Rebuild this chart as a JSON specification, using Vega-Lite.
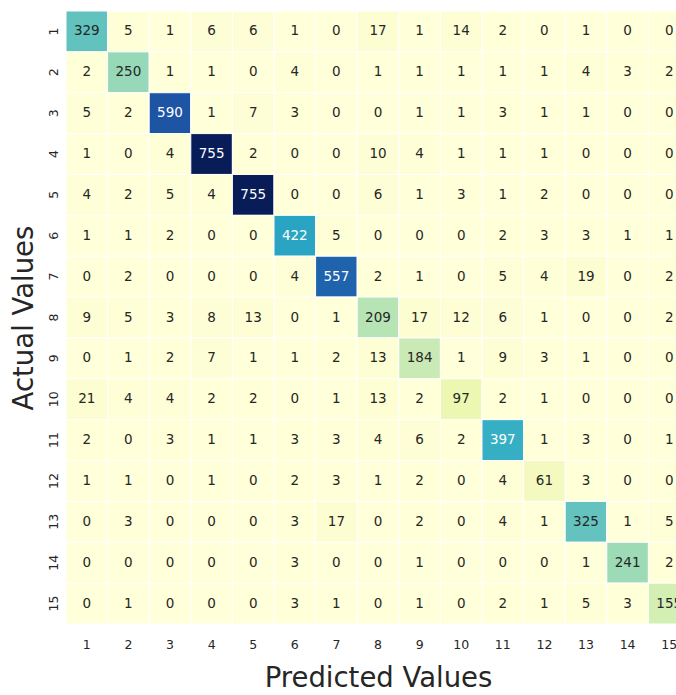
{
  "$schema": "https://vega.github.io/schema/vega-lite/v6.json",
  "autosize": "none",
  "padding": {"left": 66, "top": 11, "right": 0, "bottom": 71},
  "width": 624,
  "height": 613,
  "background": "white",
  "config": {"view": {"stroke": null}, "font": "DejaVu Sans"},
  "data": {"values": [
    {"a":1,"p":1,"v":329},{"a":1,"p":2,"v":5},{"a":1,"p":3,"v":1},{"a":1,"p":4,"v":6},{"a":1,"p":5,"v":6},{"a":1,"p":6,"v":1},{"a":1,"p":7,"v":0},{"a":1,"p":8,"v":17},{"a":1,"p":9,"v":1},{"a":1,"p":10,"v":14},{"a":1,"p":11,"v":2},{"a":1,"p":12,"v":0},{"a":1,"p":13,"v":1},{"a":1,"p":14,"v":0},{"a":1,"p":15,"v":0},
    {"a":2,"p":1,"v":2},{"a":2,"p":2,"v":250},{"a":2,"p":3,"v":1},{"a":2,"p":4,"v":1},{"a":2,"p":5,"v":0},{"a":2,"p":6,"v":4},{"a":2,"p":7,"v":0},{"a":2,"p":8,"v":1},{"a":2,"p":9,"v":1},{"a":2,"p":10,"v":1},{"a":2,"p":11,"v":1},{"a":2,"p":12,"v":1},{"a":2,"p":13,"v":4},{"a":2,"p":14,"v":3},{"a":2,"p":15,"v":2},
    {"a":3,"p":1,"v":5},{"a":3,"p":2,"v":2},{"a":3,"p":3,"v":590},{"a":3,"p":4,"v":1},{"a":3,"p":5,"v":7},{"a":3,"p":6,"v":3},{"a":3,"p":7,"v":0},{"a":3,"p":8,"v":0},{"a":3,"p":9,"v":1},{"a":3,"p":10,"v":1},{"a":3,"p":11,"v":3},{"a":3,"p":12,"v":1},{"a":3,"p":13,"v":1},{"a":3,"p":14,"v":0},{"a":3,"p":15,"v":0},
    {"a":4,"p":1,"v":1},{"a":4,"p":2,"v":0},{"a":4,"p":3,"v":4},{"a":4,"p":4,"v":755},{"a":4,"p":5,"v":2},{"a":4,"p":6,"v":0},{"a":4,"p":7,"v":0},{"a":4,"p":8,"v":10},{"a":4,"p":9,"v":4},{"a":4,"p":10,"v":1},{"a":4,"p":11,"v":1},{"a":4,"p":12,"v":1},{"a":4,"p":13,"v":0},{"a":4,"p":14,"v":0},{"a":4,"p":15,"v":0},
    {"a":5,"p":1,"v":4},{"a":5,"p":2,"v":2},{"a":5,"p":3,"v":5},{"a":5,"p":4,"v":4},{"a":5,"p":5,"v":755},{"a":5,"p":6,"v":0},{"a":5,"p":7,"v":0},{"a":5,"p":8,"v":6},{"a":5,"p":9,"v":1},{"a":5,"p":10,"v":3},{"a":5,"p":11,"v":1},{"a":5,"p":12,"v":2},{"a":5,"p":13,"v":0},{"a":5,"p":14,"v":0},{"a":5,"p":15,"v":0},
    {"a":6,"p":1,"v":1},{"a":6,"p":2,"v":1},{"a":6,"p":3,"v":2},{"a":6,"p":4,"v":0},{"a":6,"p":5,"v":0},{"a":6,"p":6,"v":422},{"a":6,"p":7,"v":5},{"a":6,"p":8,"v":0},{"a":6,"p":9,"v":0},{"a":6,"p":10,"v":0},{"a":6,"p":11,"v":2},{"a":6,"p":12,"v":3},{"a":6,"p":13,"v":3},{"a":6,"p":14,"v":1},{"a":6,"p":15,"v":1},
    {"a":7,"p":1,"v":0},{"a":7,"p":2,"v":2},{"a":7,"p":3,"v":0},{"a":7,"p":4,"v":0},{"a":7,"p":5,"v":0},{"a":7,"p":6,"v":4},{"a":7,"p":7,"v":557},{"a":7,"p":8,"v":2},{"a":7,"p":9,"v":1},{"a":7,"p":10,"v":0},{"a":7,"p":11,"v":5},{"a":7,"p":12,"v":4},{"a":7,"p":13,"v":19},{"a":7,"p":14,"v":0},{"a":7,"p":15,"v":2},
    {"a":8,"p":1,"v":9},{"a":8,"p":2,"v":5},{"a":8,"p":3,"v":3},{"a":8,"p":4,"v":8},{"a":8,"p":5,"v":13},{"a":8,"p":6,"v":0},{"a":8,"p":7,"v":1},{"a":8,"p":8,"v":209},{"a":8,"p":9,"v":17},{"a":8,"p":10,"v":12},{"a":8,"p":11,"v":6},{"a":8,"p":12,"v":1},{"a":8,"p":13,"v":0},{"a":8,"p":14,"v":0},{"a":8,"p":15,"v":2},
    {"a":9,"p":1,"v":0},{"a":9,"p":2,"v":1},{"a":9,"p":3,"v":2},{"a":9,"p":4,"v":7},{"a":9,"p":5,"v":1},{"a":9,"p":6,"v":1},{"a":9,"p":7,"v":2},{"a":9,"p":8,"v":13},{"a":9,"p":9,"v":184},{"a":9,"p":10,"v":1},{"a":9,"p":11,"v":9},{"a":9,"p":12,"v":3},{"a":9,"p":13,"v":1},{"a":9,"p":14,"v":0},{"a":9,"p":15,"v":0},
    {"a":10,"p":1,"v":21},{"a":10,"p":2,"v":4},{"a":10,"p":3,"v":4},{"a":10,"p":4,"v":2},{"a":10,"p":5,"v":2},{"a":10,"p":6,"v":0},{"a":10,"p":7,"v":1},{"a":10,"p":8,"v":13},{"a":10,"p":9,"v":2},{"a":10,"p":10,"v":97},{"a":10,"p":11,"v":2},{"a":10,"p":12,"v":1},{"a":10,"p":13,"v":0},{"a":10,"p":14,"v":0},{"a":10,"p":15,"v":0},
    {"a":11,"p":1,"v":2},{"a":11,"p":2,"v":0},{"a":11,"p":3,"v":3},{"a":11,"p":4,"v":1},{"a":11,"p":5,"v":1},{"a":11,"p":6,"v":3},{"a":11,"p":7,"v":3},{"a":11,"p":8,"v":4},{"a":11,"p":9,"v":6},{"a":11,"p":10,"v":2},{"a":11,"p":11,"v":397},{"a":11,"p":12,"v":1},{"a":11,"p":13,"v":3},{"a":11,"p":14,"v":0},{"a":11,"p":15,"v":1},
    {"a":12,"p":1,"v":1},{"a":12,"p":2,"v":1},{"a":12,"p":3,"v":0},{"a":12,"p":4,"v":1},{"a":12,"p":5,"v":0},{"a":12,"p":6,"v":2},{"a":12,"p":7,"v":3},{"a":12,"p":8,"v":1},{"a":12,"p":9,"v":2},{"a":12,"p":10,"v":0},{"a":12,"p":11,"v":4},{"a":12,"p":12,"v":61},{"a":12,"p":13,"v":3},{"a":12,"p":14,"v":0},{"a":12,"p":15,"v":0},
    {"a":13,"p":1,"v":0},{"a":13,"p":2,"v":3},{"a":13,"p":3,"v":0},{"a":13,"p":4,"v":0},{"a":13,"p":5,"v":0},{"a":13,"p":6,"v":3},{"a":13,"p":7,"v":17},{"a":13,"p":8,"v":0},{"a":13,"p":9,"v":2},{"a":13,"p":10,"v":0},{"a":13,"p":11,"v":4},{"a":13,"p":12,"v":1},{"a":13,"p":13,"v":325},{"a":13,"p":14,"v":1},{"a":13,"p":15,"v":5},
    {"a":14,"p":1,"v":0},{"a":14,"p":2,"v":0},{"a":14,"p":3,"v":0},{"a":14,"p":4,"v":0},{"a":14,"p":5,"v":0},{"a":14,"p":6,"v":3},{"a":14,"p":7,"v":0},{"a":14,"p":8,"v":0},{"a":14,"p":9,"v":1},{"a":14,"p":10,"v":0},{"a":14,"p":11,"v":0},{"a":14,"p":12,"v":0},{"a":14,"p":13,"v":1},{"a":14,"p":14,"v":241},{"a":14,"p":15,"v":2},
    {"a":15,"p":1,"v":0},{"a":15,"p":2,"v":1},{"a":15,"p":3,"v":0},{"a":15,"p":4,"v":0},{"a":15,"p":5,"v":0},{"a":15,"p":6,"v":3},{"a":15,"p":7,"v":1},{"a":15,"p":8,"v":0},{"a":15,"p":9,"v":1},{"a":15,"p":10,"v":0},{"a":15,"p":11,"v":2},{"a":15,"p":12,"v":1},{"a":15,"p":13,"v":5},{"a":15,"p":14,"v":3},{"a":15,"p":15,"v":155}
  ]},
  "encoding": {
    "x": {"field": "p", "type": "ordinal", "title": "Predicted Values",
      "axis": {"labelAngle": 0, "ticks": false, "domain": false, "labelPadding": 14, "labelFontSize": 12.5, "labelColor": "#262626", "titleFontSize": 27.5, "titleFontWeight": "normal", "titleColor": "#262626", "titlePadding": 14, "labelFont": "DejaVu Sans", "titleFont": "DejaVu Sans"}},
    "y": {"field": "a", "type": "ordinal", "title": "Actual Values",
      "axis": {"labelAngle": 270, "labelAlign": "center", "labelBaseline": "bottom", "ticks": false, "domain": false, "labelPadding": 6, "labelFontSize": 12.5, "labelColor": "#262626", "titleFontSize": 27.5, "titleFontWeight": "normal", "titleColor": "#262626", "titlePadding": 9, "labelFont": "DejaVu Sans", "titleFont": "DejaVu Sans"}}
  },
  "layer": [
    {
      "mark": {"type": "rect", "stroke": "white", "strokeWidth": 1},
      "encoding": {
        "color": {"field": "v", "type": "quantitative", "legend": null,
          "scale": {"domain": [0, 94.375, 188.75, 283.125, 377.5, 471.875, 566.25, 660.625, 755],
            "range": ["#ffffd9", "#edf8b1", "#c7e9b4", "#7fcdbb", "#41b6c4", "#1d91c0", "#225ea8", "#253494", "#081d58"]}}
      }
    },
    {
      "mark": {"type": "text", "fontSize": 13.5, "font": "DejaVu Sans"},
      "encoding": {
        "text": {"field": "v", "type": "quantitative"},
        "color": {"condition": {"test": "datum.v > 360", "value": "white"}, "value": "#262626"}
      }
    }
  ]
}
